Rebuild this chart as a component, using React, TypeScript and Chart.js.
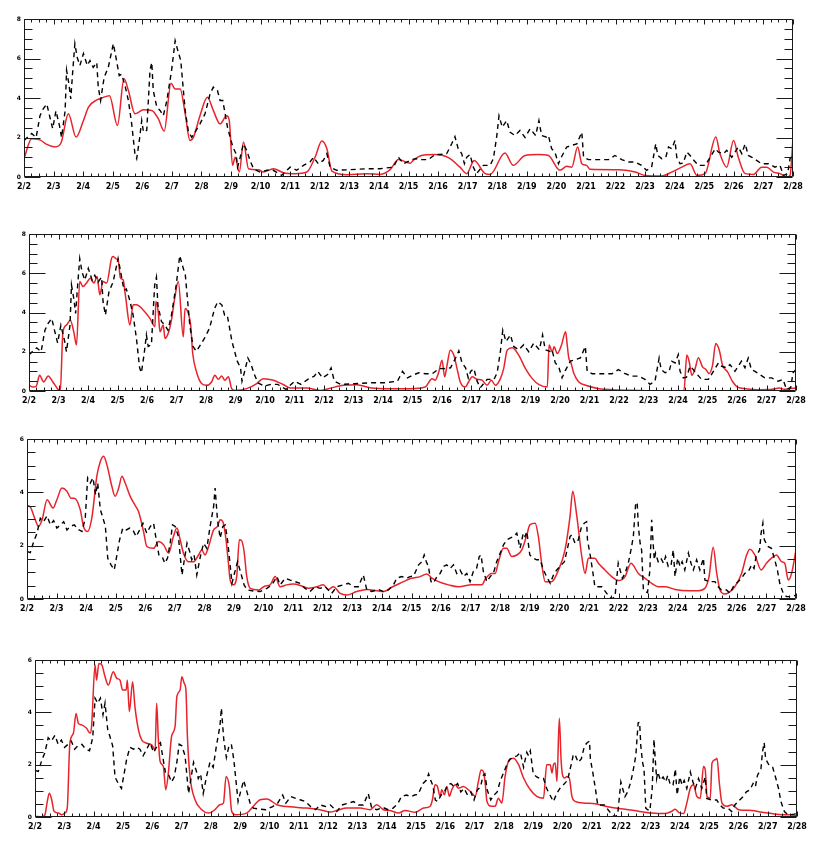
import { useEffect, useRef } from "react";
import { Chart, registerables } from "chart.js";

Chart.register(...registerables);

// x = days after 2/2 (0 = 2/2, 26 = 2/28), y = value
const dayLabels = [
  "2/2", "2/3", "2/4", "2/5", "2/6", "2/7", "2/8", "2/9", "2/10", "2/11", "2/12", "2/13", "2/14",
  "2/15", "2/16", "2/17", "2/18", "2/19", "2/20", "2/21", "2/22", "2/23", "2/24", "2/25", "2/26",
  "2/27", "2/28",
];

// Observation (black dashed) shown in panels 1 and 2
const obsA: [number, number][] = [
  [0, 1.85], [0.26, 2.2], [0.41, 2.0], [0.54, 3.1], [0.65, 3.45], [0.77, 3.7], [0.88, 3.0], [0.97, 2.45],
  [1.08, 3.35], [1.2, 2.6], [1.27, 2.0], [1.39, 3.35], [1.44, 5.4], [1.52, 4.7], [1.58, 3.95], [1.65, 5.4],
  [1.72, 6.75], [1.8, 6.05], [1.89, 5.65], [2.01, 6.25], [2.14, 5.65], [2.23, 5.9], [2.34, 5.55], [2.46, 5.8],
  [2.51, 4.55], [2.59, 3.87], [2.71, 5.05], [2.85, 5.55], [3.02, 6.75], [3.11, 6.05], [3.22, 5.13], [3.3, 5.2],
  [3.42, 4.6], [3.53, 3.87], [3.64, 2.7], [3.75, 1.18], [3.81, 0.93], [3.9, 1.85], [3.98, 2.86], [4.04, 2.27],
  [4.15, 2.36], [4.26, 5.4], [4.32, 5.8], [4.37, 4.38], [4.49, 3.54], [4.6, 3.37], [4.71, 3.1], [4.83, 3.87],
  [4.99, 5.4], [5.11, 6.9], [5.22, 6.3], [5.3, 5.9], [5.37, 4.7], [5.45, 3.37], [5.56, 2.27], [5.67, 2.02],
  [5.78, 2.27], [5.95, 2.69], [6.12, 3.2], [6.29, 4.2], [6.4, 4.55], [6.54, 4.38], [6.63, 3.87], [6.72, 3.87],
  [6.8, 3.2], [6.88, 2.52], [6.97, 2.02], [7.06, 1.52], [7.17, 1.18], [7.22, 0.5], [7.31, 1.0], [7.42, 1.68],
  [7.53, 1.35], [7.64, 0.84], [7.76, 0.42], [7.98, 0.25], [8.21, 0.34], [8.43, 0.34], [8.71, 0.08], [9.0, 0.5],
  [9.22, 0.34], [9.45, 0.59], [9.67, 0.76], [9.79, 1.0], [9.95, 0.67], [10.12, 0.84], [10.24, 1.18], [10.35, 0.5],
  [10.57, 0.34], [11.03, 0.37], [11.59, 0.42], [12.04, 0.42], [12.49, 0.5], [12.66, 1.0], [12.83, 0.67], [13.06, 0.84],
  [13.22, 0.93], [13.44, 0.88], [13.67, 0.88], [13.9, 1.14], [14.06, 1.14], [14.29, 1.18], [14.46, 1.68], [14.57, 2.05],
  [14.68, 1.43], [14.8, 1.18], [14.89, 0.67], [14.97, 1.0], [15.08, 1.14], [15.19, 0.5], [15.3, 0.17], [15.53, 0.59],
  [15.76, 0.59], [15.87, 0.93], [15.98, 2.02], [16.06, 3.1], [16.17, 2.52], [16.32, 2.86], [16.43, 2.27], [16.6, 2.1],
  [16.77, 2.36], [16.94, 2.0], [17.11, 2.44], [17.3, 2.1], [17.41, 2.86], [17.5, 2.1], [17.67, 2.02], [17.73, 2.1],
  [17.84, 1.43], [17.95, 1.26], [18.07, 0.67], [18.18, 1.04], [18.35, 1.52], [18.52, 1.6], [18.69, 1.68], [18.86, 2.27],
  [18.92, 1.0], [19.09, 0.88], [19.31, 0.88], [19.53, 0.88], [19.76, 0.88], [19.98, 1.09], [20.21, 0.88], [20.43, 0.76],
  [20.66, 0.76], [20.88, 0.59], [21.05, 0.34], [21.22, 0.5], [21.36, 1.68], [21.43, 1.09], [21.56, 0.93], [21.7, 1.0],
  [21.79, 1.52], [21.9, 1.43], [22.01, 1.85], [22.07, 1.0], [22.18, 0.67], [22.29, 0.71], [22.41, 1.26], [22.52, 1.09],
  [22.63, 0.88], [22.8, 0.59], [23.03, 0.59], [23.2, 1.0], [23.37, 1.43], [23.48, 1.26], [23.65, 1.18], [23.76, 1.35],
  [23.93, 1.0], [24.15, 1.52], [24.27, 1.18], [24.38, 1.68], [24.49, 1.09], [24.61, 1.0], [24.77, 0.84], [24.94, 0.67],
  [25.17, 0.67], [25.39, 0.5], [25.56, 0.59], [25.68, 0.08], [25.82, 0.17], [25.9, 0.93], [26.0, 1.1],
];

// Observation (black dashed) shown in panels 3 and 4
const obsB: [number, number][] = [
  [0, 1.78], [0.11, 1.74], [0.23, 2.16], [0.34, 2.47], [0.45, 3.03], [0.56, 2.9], [0.68, 3.12], [0.79, 2.78],
  [0.9, 2.94], [1.01, 2.66], [1.13, 2.78], [1.24, 2.9], [1.35, 2.59], [1.46, 2.72], [1.6, 2.78], [1.71, 2.62],
  [1.86, 2.53], [1.97, 3.03], [2.05, 4.54], [2.14, 4.35], [2.23, 4.54], [2.32, 3.91], [2.39, 4.35], [2.48, 3.35],
  [2.57, 3.03], [2.65, 2.72], [2.73, 1.53], [2.84, 1.28], [2.95, 1.09], [3.04, 1.65], [3.13, 2.22], [3.24, 2.66],
  [3.36, 2.59], [3.47, 2.66], [3.58, 2.59], [3.69, 2.34], [3.81, 2.59], [3.92, 2.84], [4.05, 2.47], [4.17, 2.72],
  [4.28, 2.84], [4.37, 2.22], [4.46, 1.65], [4.57, 1.59], [4.66, 1.34], [4.75, 1.53], [4.84, 2.09], [4.92, 2.78],
  [5.01, 2.72], [5.12, 2.34], [5.24, 0.9], [5.32, 1.47], [5.41, 2.09], [5.5, 1.78], [5.57, 1.47], [5.65, 1.65],
  [5.74, 0.9], [5.86, 1.59], [5.97, 2.09], [6.08, 1.9], [6.19, 2.72], [6.31, 3.47], [6.36, 4.16], [6.44, 2.97],
  [6.53, 2.28], [6.62, 2.72], [6.7, 2.78], [6.78, 2.22], [6.85, 1.47], [6.93, 0.59], [7.0, 0.9], [7.12, 1.4],
  [7.23, 0.97], [7.34, 0.53], [7.45, 0.34], [7.66, 0.3], [7.88, 0.28], [8.11, 0.4], [8.28, 0.53], [8.45, 0.84],
  [8.56, 0.53], [8.73, 0.78], [8.9, 0.71], [9.07, 0.65], [9.23, 0.59], [9.4, 0.4], [9.57, 0.28], [9.74, 0.46],
  [9.91, 0.4], [10.08, 0.46], [10.3, 0.21], [10.47, 0.46], [10.7, 0.53], [10.87, 0.59], [11.04, 0.46], [11.2, 0.46],
  [11.37, 0.9], [11.49, 0.34], [11.66, 0.28], [11.88, 0.36], [12.05, 0.28], [12.22, 0.34], [12.39, 0.53], [12.5, 0.78],
  [12.67, 0.84], [12.84, 0.78], [12.95, 0.84], [13.07, 0.86], [13.24, 1.28], [13.35, 1.4], [13.43, 1.65], [13.5, 1.4],
  [13.57, 1.22], [13.66, 0.65], [13.74, 0.59], [13.86, 0.84], [13.97, 0.96], [14.08, 1.22], [14.19, 1.28], [14.31, 1.15],
  [14.42, 1.28], [14.53, 0.96], [14.64, 1.09], [14.76, 0.84], [14.87, 0.96], [14.98, 0.65], [15.09, 1.03], [15.2, 1.15],
  [15.29, 1.59], [15.35, 1.65], [15.43, 1.03], [15.55, 0.65], [15.66, 0.84], [15.77, 0.96], [15.88, 1.4], [16.0, 1.72],
  [16.11, 2.03], [16.22, 2.22], [16.33, 2.28], [16.45, 2.34], [16.56, 2.47], [16.67, 1.9], [16.78, 2.47], [16.84, 2.34],
  [16.9, 2.53], [17.0, 1.65], [17.12, 1.53], [17.23, 1.47], [17.35, 1.47], [17.46, 1.09], [17.57, 0.84], [17.69, 0.59],
  [17.8, 0.9], [17.91, 1.09], [18.02, 1.22], [18.17, 1.4], [18.3, 2.03], [18.36, 2.34], [18.42, 2.41], [18.53, 2.09],
  [18.64, 2.22], [18.75, 2.72], [18.84, 2.84], [18.92, 2.9], [18.95, 2.22], [19.04, 1.65], [19.12, 1.09], [19.2, 0.46],
  [19.32, 0.46], [19.43, 0.46], [19.6, 0.21], [19.77, 0], [19.88, 0.09], [19.99, 1.34], [20.05, 1.09], [20.13, 0.78],
  [20.22, 0.96], [20.33, 1.34], [20.42, 1.84], [20.5, 2.34], [20.58, 3.6], [20.63, 3.62], [20.67, 2.72], [20.73, 2.09],
  [20.78, 1.84], [20.84, 0.34], [20.9, 0.28], [20.98, 0.24], [21.06, 1.09], [21.12, 2.97], [21.17, 2.09], [21.21, 1.47],
  [21.25, 1.72], [21.34, 1.4], [21.43, 1.53], [21.52, 1.34], [21.59, 1.59], [21.68, 1.22], [21.77, 1.22], [21.85, 1.84],
  [21.91, 0.84], [22.0, 1.53], [22.08, 1.22], [22.15, 1.4], [22.24, 1.09], [22.36, 1.72], [22.45, 1.34], [22.53, 1.09],
  [22.64, 1.47], [22.75, 1.09], [22.87, 1.53], [22.92, 0.71], [23.09, 0.65], [23.26, 0.65], [23.37, 0.46], [23.48, 0.34],
  [23.65, 0.34], [23.77, 0.21], [23.88, 0.46], [23.99, 0.59], [24.16, 0.78], [24.27, 0.96], [24.39, 1.03], [24.5, 1.28],
  [24.58, 1.15], [24.65, 1.59], [24.77, 1.84], [24.82, 2.47], [24.88, 2.84], [24.93, 2.22], [25.05, 1.97], [25.17, 1.9],
  [25.28, 1.47], [25.37, 1.09], [25.45, 0.59], [25.57, 0.21], [25.68, 0.09], [25.79, 0.09], [25.91, 0.11], [26.0, 0.15],
];

// Model (red) panel 1
const simA: [number, number][] = [
  [0, 0.93], [0.26, 1.94], [0.54, 1.88], [0.77, 1.65], [1.05, 1.52], [1.25, 1.72], [1.5, 3.2], [1.76, 2.02],
  [2.01, 2.86], [2.18, 3.54], [2.46, 3.9], [2.63, 4.0], [2.89, 4.12], [3.16, 2.61], [3.38, 4.97], [3.53, 4.38],
  [3.75, 3.2], [4.04, 3.4], [4.32, 3.37], [4.54, 2.95], [4.74, 2.32], [4.97, 4.75], [5.11, 4.46], [5.28, 4.46],
  [5.45, 3.2], [5.61, 1.85], [5.73, 2.02], [5.95, 3.1], [6.2, 4.04], [6.4, 3.37], [6.63, 2.69], [6.85, 3.1],
  [6.94, 2.86], [7.05, 0.59], [7.14, 1.0], [7.28, 0.25], [7.42, 1.77], [7.59, 0.42], [7.93, 0.37], [8.09, 0.25],
  [8.43, 0.42], [8.77, 0.22], [9.17, 0.17], [9.56, 0.25], [9.84, 1.0], [10.07, 1.82], [10.24, 1.43], [10.41, 0.3],
  [10.91, 0.12], [11.59, 0.17], [12.04, 0.13], [12.38, 0.37], [12.66, 0.88], [13.06, 0.7], [13.16, 0.84], [13.44, 1.09],
  [13.9, 1.14], [14.35, 0.98], [14.74, 0.5], [14.97, 0.17], [15.22, 0.84], [15.59, 0.17], [15.76, 0.13], [16.26, 1.21],
  [16.54, 0.59], [16.94, 1.09], [17.39, 1.14], [17.73, 1.09], [18.12, 0.34], [18.35, 0.54], [18.52, 0.5], [18.72, 1.52],
  [18.86, 0.67], [19.02, 0.59], [19.14, 0.39], [20.1, 0.37], [20.66, 0.25], [21.0, 0.08], [21.56, 0.05], [21.9, 0.25],
  [22.24, 0.5], [22.52, 0.67], [22.75, 0.08], [23.03, 0.17], [23.39, 2.02], [23.53, 1.18], [23.76, 0.5], [23.99, 1.85],
  [24.15, 1.0], [24.38, 0.17], [24.66, 0.13], [24.94, 0.5], [25.11, 0.5], [25.34, 0.25], [25.56, 0.17], [25.79, 0.0],
  [25.9, 0.08], [26.0, 1.94],
];

// Model (red) panel 2
const simB: [number, number][] = [
  [0, 0.29], [0.14, 0.2], [0.25, 0.26], [0.36, 0.8], [0.5, 0.46], [0.65, 0.77], [0.81, 0.46], [0.98, 0.09],
  [1.06, 0], [1.15, 3.0], [1.27, 3.36], [1.4, 3.6], [1.52, 3.0], [1.61, 2.34], [1.72, 5.58], [1.83, 5.32],
  [1.95, 5.5], [2.08, 5.75], [2.2, 5.5], [2.31, 5.84], [2.4, 4.9], [2.51, 5.58], [2.63, 5.5], [2.8, 6.77],
  [2.85, 6.85], [2.97, 6.72], [3.02, 6.69], [3.1, 5.75], [3.19, 5.67], [3.28, 4.73], [3.42, 3.36], [3.53, 4.39],
  [3.64, 4.39], [3.87, 4.13], [4.1, 3.7], [4.27, 3.28], [4.3, 4.56], [4.38, 4.04], [4.44, 3.02], [4.55, 3.36],
  [4.61, 2.68], [4.72, 2.94], [4.83, 3.62], [4.94, 4.73], [5.06, 5.58], [5.23, 2.76], [5.29, 4.21], [5.4, 3.96],
  [5.48, 3.36], [5.55, 1.91], [5.68, 0.97], [5.85, 0.38], [6.02, 0.29], [6.19, 0.46], [6.3, 0.8], [6.42, 0.6],
  [6.53, 0.77], [6.64, 0.55], [6.76, 0.72], [6.87, 0.12], [6.98, 0.03], [7.38, 0.12], [7.72, 0.38], [7.94, 0.63],
  [8.29, 0.55], [8.63, 0.32], [8.86, 0.15], [9.42, 0.15], [9.87, 0.03], [10.15, 0.12], [10.66, 0.29], [11.11, 0.32],
  [11.56, 0.17], [12.25, 0.12], [12.93, 0.12], [13.43, 0.2], [13.66, 0.63], [13.77, 0.55], [13.89, 0.97], [14.0, 1.57],
  [14.09, 0.72], [14.17, 1.31], [14.28, 2.08], [14.4, 1.83], [14.51, 1.14], [14.62, 0.46], [14.79, 0.2], [14.9, 0.46],
  [15.02, 0.72], [15.19, 0.6], [15.36, 0.55], [15.53, 0.29], [15.67, 0.55], [15.81, 0.29], [15.98, 0.63], [16.09, 1.14],
  [16.21, 2.08], [16.38, 2.2], [16.6, 1.83], [16.83, 1.14], [17.06, 0.63], [17.29, 0.32], [17.57, 0.2], [17.63, 2.34],
  [17.74, 1.99], [17.8, 2.25], [17.91, 1.91], [18.05, 2.34], [18.19, 3.02], [18.24, 2.42], [18.3, 1.66], [18.36, 1.49],
  [18.47, 0.89], [18.64, 0.46], [18.87, 0.29], [19.32, 0.12], [19.78, 0.07], [20.68, 0.03], [21.36, 0], [22.2, 0],
  [22.3, 1.83], [22.38, 1.49], [22.47, 0.8], [22.58, 1.14], [22.69, 1.69], [22.83, 1.23], [22.94, 1.11], [23.05, 0.89],
  [23.17, 1.31], [23.28, 2.42], [23.4, 2.08], [23.51, 1.31], [23.68, 0.97], [23.86, 0.46], [24.02, 0.2], [24.3, 0.12],
  [24.76, 0.07], [25.2, 0.09], [25.43, 0.15], [25.6, 0.09], [25.77, 0.12], [26.0, 0.15],
];

// Model (red) panel 3
const simC: [number, number][] = [
  [0, 3.5], [0.11, 3.45], [0.28, 2.97], [0.39, 2.72], [0.51, 2.97], [0.68, 3.72], [0.88, 3.41], [1.01, 3.72],
  [1.18, 4.16], [1.35, 4.04], [1.49, 3.78], [1.6, 3.78], [1.8, 3.35], [1.91, 2.72], [2.05, 2.53], [2.2, 3.1],
  [2.36, 4.6], [2.48, 5.16], [2.59, 5.35], [2.7, 5.04], [2.87, 4.22], [2.98, 3.85], [3.1, 4.16], [3.21, 4.6],
  [3.32, 4.35], [3.49, 3.85], [3.66, 3.5], [3.77, 3.28], [3.94, 2.53], [4.05, 1.97], [4.28, 1.9], [4.45, 2.16],
  [4.62, 2.03], [4.79, 1.72], [4.95, 2.34], [5.07, 2.66], [5.18, 2.22], [5.29, 1.72], [5.46, 1.4], [5.63, 1.4],
  [5.8, 1.65], [5.91, 1.84], [6.02, 1.65], [6.14, 1.97], [6.31, 2.59], [6.44, 2.72], [6.53, 2.97], [6.62, 2.9],
  [6.73, 2.22], [6.81, 1.34], [6.87, 0.71], [6.98, 0.53], [7.09, 0.84], [7.18, 2.22], [7.26, 2.18], [7.34, 1.78],
  [7.43, 0.84], [7.55, 0.4], [7.83, 0.34], [8.05, 0.49], [8.22, 0.53], [8.39, 0.84], [8.56, 0.46], [8.78, 0.53],
  [9.0, 0.56], [9.29, 0.49], [9.52, 0.4], [9.8, 0.46], [10.02, 0.53], [10.19, 0.36], [10.36, 0.46], [10.59, 0.21],
  [10.81, 0.15], [11.15, 0.28], [11.49, 0.36], [11.82, 0.31], [12.05, 0.28], [12.33, 0.44], [12.61, 0.59], [12.84, 0.71],
  [13.0, 0.78], [13.29, 0.84], [13.52, 0.94], [13.69, 0.78], [13.91, 0.65], [14.25, 0.53], [14.59, 0.46], [15.04, 0.53],
  [15.38, 0.53], [15.49, 0.74], [15.71, 0.96], [15.83, 0.96], [15.94, 1.4], [16.11, 1.9], [16.22, 1.9], [16.39, 1.59],
  [16.56, 1.65], [16.73, 1.84], [16.9, 2.41], [17.0, 2.78], [17.18, 2.84], [17.29, 2.34], [17.4, 1.34], [17.52, 0.65],
  [17.74, 0.65], [17.97, 1.09], [18.19, 1.84], [18.36, 3.1], [18.45, 4.04], [18.59, 3.1], [18.75, 1.65], [18.87, 0.96],
  [18.98, 1.53], [19.09, 1.53], [19.2, 1.53], [19.32, 1.34], [19.54, 1.09], [19.77, 0.84], [19.99, 0.69], [20.22, 0.84],
  [20.42, 1.34], [20.67, 0.96], [20.89, 0.78], [21.12, 0.59], [21.34, 0.46], [21.57, 0.46], [21.91, 0.36], [22.36, 0.31],
  [22.7, 0.31], [22.92, 0.4], [23.06, 0.84], [23.2, 1.94], [23.32, 0.96], [23.43, 0.34], [23.6, 0.19], [23.77, 0.28],
  [23.93, 0.46], [24.16, 0.96], [24.33, 1.65], [24.44, 1.87], [24.61, 1.65], [24.82, 1.09], [25.0, 1.34], [25.17, 1.53],
  [25.34, 1.65], [25.51, 1.4], [25.62, 1.34], [25.74, 0.71], [25.85, 0.96], [26.0, 1.84],
];

// Model (red) panel 4
const simD: [number, number][] = [
  [0, 0.03], [0.23, 0], [0.34, 0.09], [0.42, 0.6], [0.49, 0.91], [0.57, 0.66], [0.65, 0.22], [0.8, 0.15],
  [0.91, 0.09], [1.02, 0.15], [1.1, 0.34], [1.19, 2.82], [1.31, 3.2], [1.4, 3.96], [1.48, 3.58], [1.59, 3.52],
  [1.76, 3.39], [1.88, 3.2], [1.93, 3.46], [2.05, 5.81], [2.1, 5.23], [2.18, 5.87], [2.28, 5.81], [2.39, 5.36],
  [2.5, 5.04], [2.67, 5.55], [2.79, 5.3], [2.9, 5.23], [2.99, 4.85], [3.11, 4.85], [3.15, 5.23], [3.22, 4.03],
  [3.33, 5.17], [3.41, 4.22], [3.53, 3.33], [3.64, 2.95], [3.81, 2.82], [3.98, 2.76], [4.1, 2.57], [4.15, 4.35],
  [4.21, 2.95], [4.27, 2.12], [4.38, 1.93], [4.46, 1.04], [4.55, 1.68], [4.66, 3.08], [4.78, 3.46], [4.84, 4.6],
  [4.95, 4.85], [5.01, 5.36], [5.09, 5.11], [5.15, 4.85], [5.2, 3.08], [5.29, 1.55], [5.46, 0.66], [5.69, 0.28],
  [5.92, 0.15], [6.14, 0.28], [6.31, 0.47], [6.43, 0.53], [6.52, 1.55], [6.63, 1.17], [6.71, 0.22], [6.83, 0.09],
  [7.22, 0.15], [7.45, 0.41], [7.68, 0.66], [7.91, 0.69], [8.25, 0.47], [8.48, 0.41], [8.82, 0.38], [9.27, 0.34],
  [9.73, 0.28], [10.07, 0.19], [10.3, 0.25], [10.64, 0.34], [11.09, 0.34], [11.43, 0.28], [11.66, 0.47], [11.89, 0.28],
  [12.12, 0.25], [12.4, 0.15], [12.63, 0.25], [12.97, 0.18], [13.26, 0.34], [13.48, 0.41], [13.56, 0.66], [13.65, 1.23],
  [13.73, 1.17], [13.82, 0.79], [13.88, 1.04], [13.97, 0.85], [14.05, 1.17], [14.14, 0.79], [14.22, 1.04], [14.34, 1.23],
  [14.45, 1.1], [14.62, 1.17], [14.79, 1.04], [14.91, 0.91], [15.02, 0.79], [15.13, 1.36], [15.22, 1.8], [15.3, 1.74],
  [15.36, 1.3], [15.42, 0.6], [15.57, 0.41], [15.7, 0.41], [15.81, 0.72], [15.93, 0.53], [16.04, 1.55], [16.18, 2.19],
  [16.33, 2.25], [16.5, 2.0], [16.67, 1.49], [16.9, 1.04], [17.12, 0.79], [17.35, 0.72], [17.46, 2.0], [17.58, 2.0],
  [17.64, 1.68], [17.69, 2.0], [17.75, 2.06], [17.81, 1.36], [17.89, 3.77], [17.95, 2.19], [18.0, 1.61], [18.07, 1.49],
  [18.15, 1.55], [18.23, 1.49], [18.32, 0.79], [18.43, 0.6], [18.77, 0.53], [19.11, 0.51], [19.46, 0.41], [19.8, 0.34],
  [20.14, 0.3], [20.59, 0.22], [21.05, 0.15], [21.5, 0.13], [21.73, 0.22], [21.84, 0.3], [21.96, 0.18], [22.13, 0.13],
  [22.24, 0.53], [22.36, 1.1], [22.47, 1.23], [22.58, 0.79], [22.7, 0.72], [22.81, 1.93], [22.87, 1.8], [22.93, 0.79],
  [23.04, 0.72], [23.1, 2.06], [23.21, 2.19], [23.27, 2.25], [23.35, 1.3], [23.44, 0.53], [23.61, 0.41], [23.78, 0.47],
  [24.01, 0.28], [24.46, 0.25], [24.8, 0.18], [25.14, 0.13], [25.49, 0.09], [25.77, 0.09], [26.0, 0.03],
];

const RED = "#e8232b";

type Panel = {
  top: number; h: number; padTop: number; left: number; padRight: number; axisH: number;
  yMax: number; black: [number, number][]; red: [number, number][];
};

const PANELS: Panel[] = [
  { top: 0, h: 215, padTop: 19, left: 24, padRight: 20, axisH: 38, yMax: 8, black: obsA, red: simA },
  { top: 215, h: 215, padTop: 19, left: 29, padRight: 17, axisH: 39, yMax: 8, black: obsA, red: simB },
  { top: 430, h: 220, padTop: 9, left: 27, padRight: 17, axisH: 51, yMax: 6, black: obsB, red: simC },
  { top: 650, h: 191, padTop: 10, left: 35, padRight: 16, axisH: 24, yMax: 6, black: obsB, red: simD },
];

const toXY = (arr: [number, number][]) => arr.map(([x, y]) => ({ x, y }));

const framePlugin = {
  id: "idlFrame",
  afterDatasetsDraw(chart: any) {
    const { ctx, chartArea: a, scales } = chart;
    const xs = scales.x;
    const ys = scales.y;
    const L = Math.round(a.left) + 0.5;
    const R = Math.round(a.right) - 0.5;
    const T = Math.round(a.top) + 0.5;
    const B = Math.round(a.bottom) - 0.5;
    ctx.save();
    ctx.strokeStyle = "#1a1a1a";
    ctx.lineWidth = 1;
    ctx.beginPath();
    ctx.rect(L, T, R - L, B - T);
    // x ticks every 6 hours, longer at days
    for (let k = 0; k <= 104; k++) {
      const px = Math.round(xs.getPixelForValue(k / 4)) + 0.5;
      const len = k % 4 === 0 ? 5 : 3;
      ctx.moveTo(px, B);
      ctx.lineTo(px, B - len);
      ctx.moveTo(px, T);
      ctx.lineTo(px, T + len);
    }
    // y ticks every 0.5, longer every 2
    const n = ys.max * 2;
    for (let k = 0; k <= n; k++) {
      const py = Math.round(ys.getPixelForValue(k / 2)) + 0.5;
      const len = k % 4 === 0 ? 16 : 8;
      ctx.moveTo(L, py);
      ctx.lineTo(L + len, py);
      ctx.moveTo(R, py);
      ctx.lineTo(R - len, py);
    }
    ctx.stroke();
    ctx.restore();
  },
};

function makeConfig(p: Panel): any {
  const tickFont = { family: "DejaVu Sans", size: 8, weight: "bold" };
  return {
    type: "line",
    data: {
      datasets: [
        {
          data: toXY(p.black),
          borderColor: "#000",
          borderWidth: 1.4,
          borderDash: [5, 4],
          pointRadius: 0,
          tension: 0,
          fill: false,
        },
        {
          data: toXY(p.red),
          borderColor: RED,
          borderWidth: 1.5,
          pointRadius: 0,
          cubicInterpolationMode: "monotone",
          fill: false,
        },
      ],
    },
    options: {
      responsive: false,
      maintainAspectRatio: false,
      animation: false,
      devicePixelRatio: 1,
      events: [],
      layout: { padding: { top: p.padTop, right: p.padRight, left: 0, bottom: 0 } },
      plugins: { legend: { display: false }, tooltip: { enabled: false } },
      scales: {
        x: {
          type: "linear",
          min: 0,
          max: 26,
          grid: { display: false, drawTicks: false },
          border: { display: false },
          ticks: {
            stepSize: 1,
            maxTicksLimit: 40,
            autoSkip: false,
            maxRotation: 0,
            minRotation: 0,
            padding: 5,
            color: "#000",
            font: tickFont,
            callback: (v: number) => dayLabels[Math.round(v)] ?? "",
          },
          afterFit: (s: any) => { s.height = p.axisH; },
        },
        y: {
          type: "linear",
          min: 0,
          max: p.yMax,
          grid: { display: false, drawTicks: false },
          border: { display: false },
          ticks: {
            stepSize: 2,
            padding: 3,
            color: "#000",
            font: { family: "DejaVu Sans", size: 6, weight: "bold" },
          },
          afterFit: (s: any) => { s.width = p.left; },
        },
      },
    },
    plugins: [framePlugin],
  };
}

export default function App() {
  const refs = useRef<(HTMLCanvasElement | null)[]>([]);
  useEffect(() => {
    document.body.style.margin = "0";
    const charts = PANELS.map((p, i) => new Chart(refs.current[i] as HTMLCanvasElement, makeConfig(p)));
    return () => charts.forEach((c) => c.destroy());
  }, []);
  return (
    <div style={{ position: "absolute", left: 0, top: 0, width: 813, height: 841, background: "#fff" }}>
      {PANELS.map((p, i) => (
        <canvas
          key={i}
          ref={(el) => { refs.current[i] = el; }}
          width={813}
          height={p.h}
          style={{ position: "absolute", left: 0, top: p.top, width: 813, height: p.h, display: "block" }}
        />
      ))}
    </div>
  );
}
